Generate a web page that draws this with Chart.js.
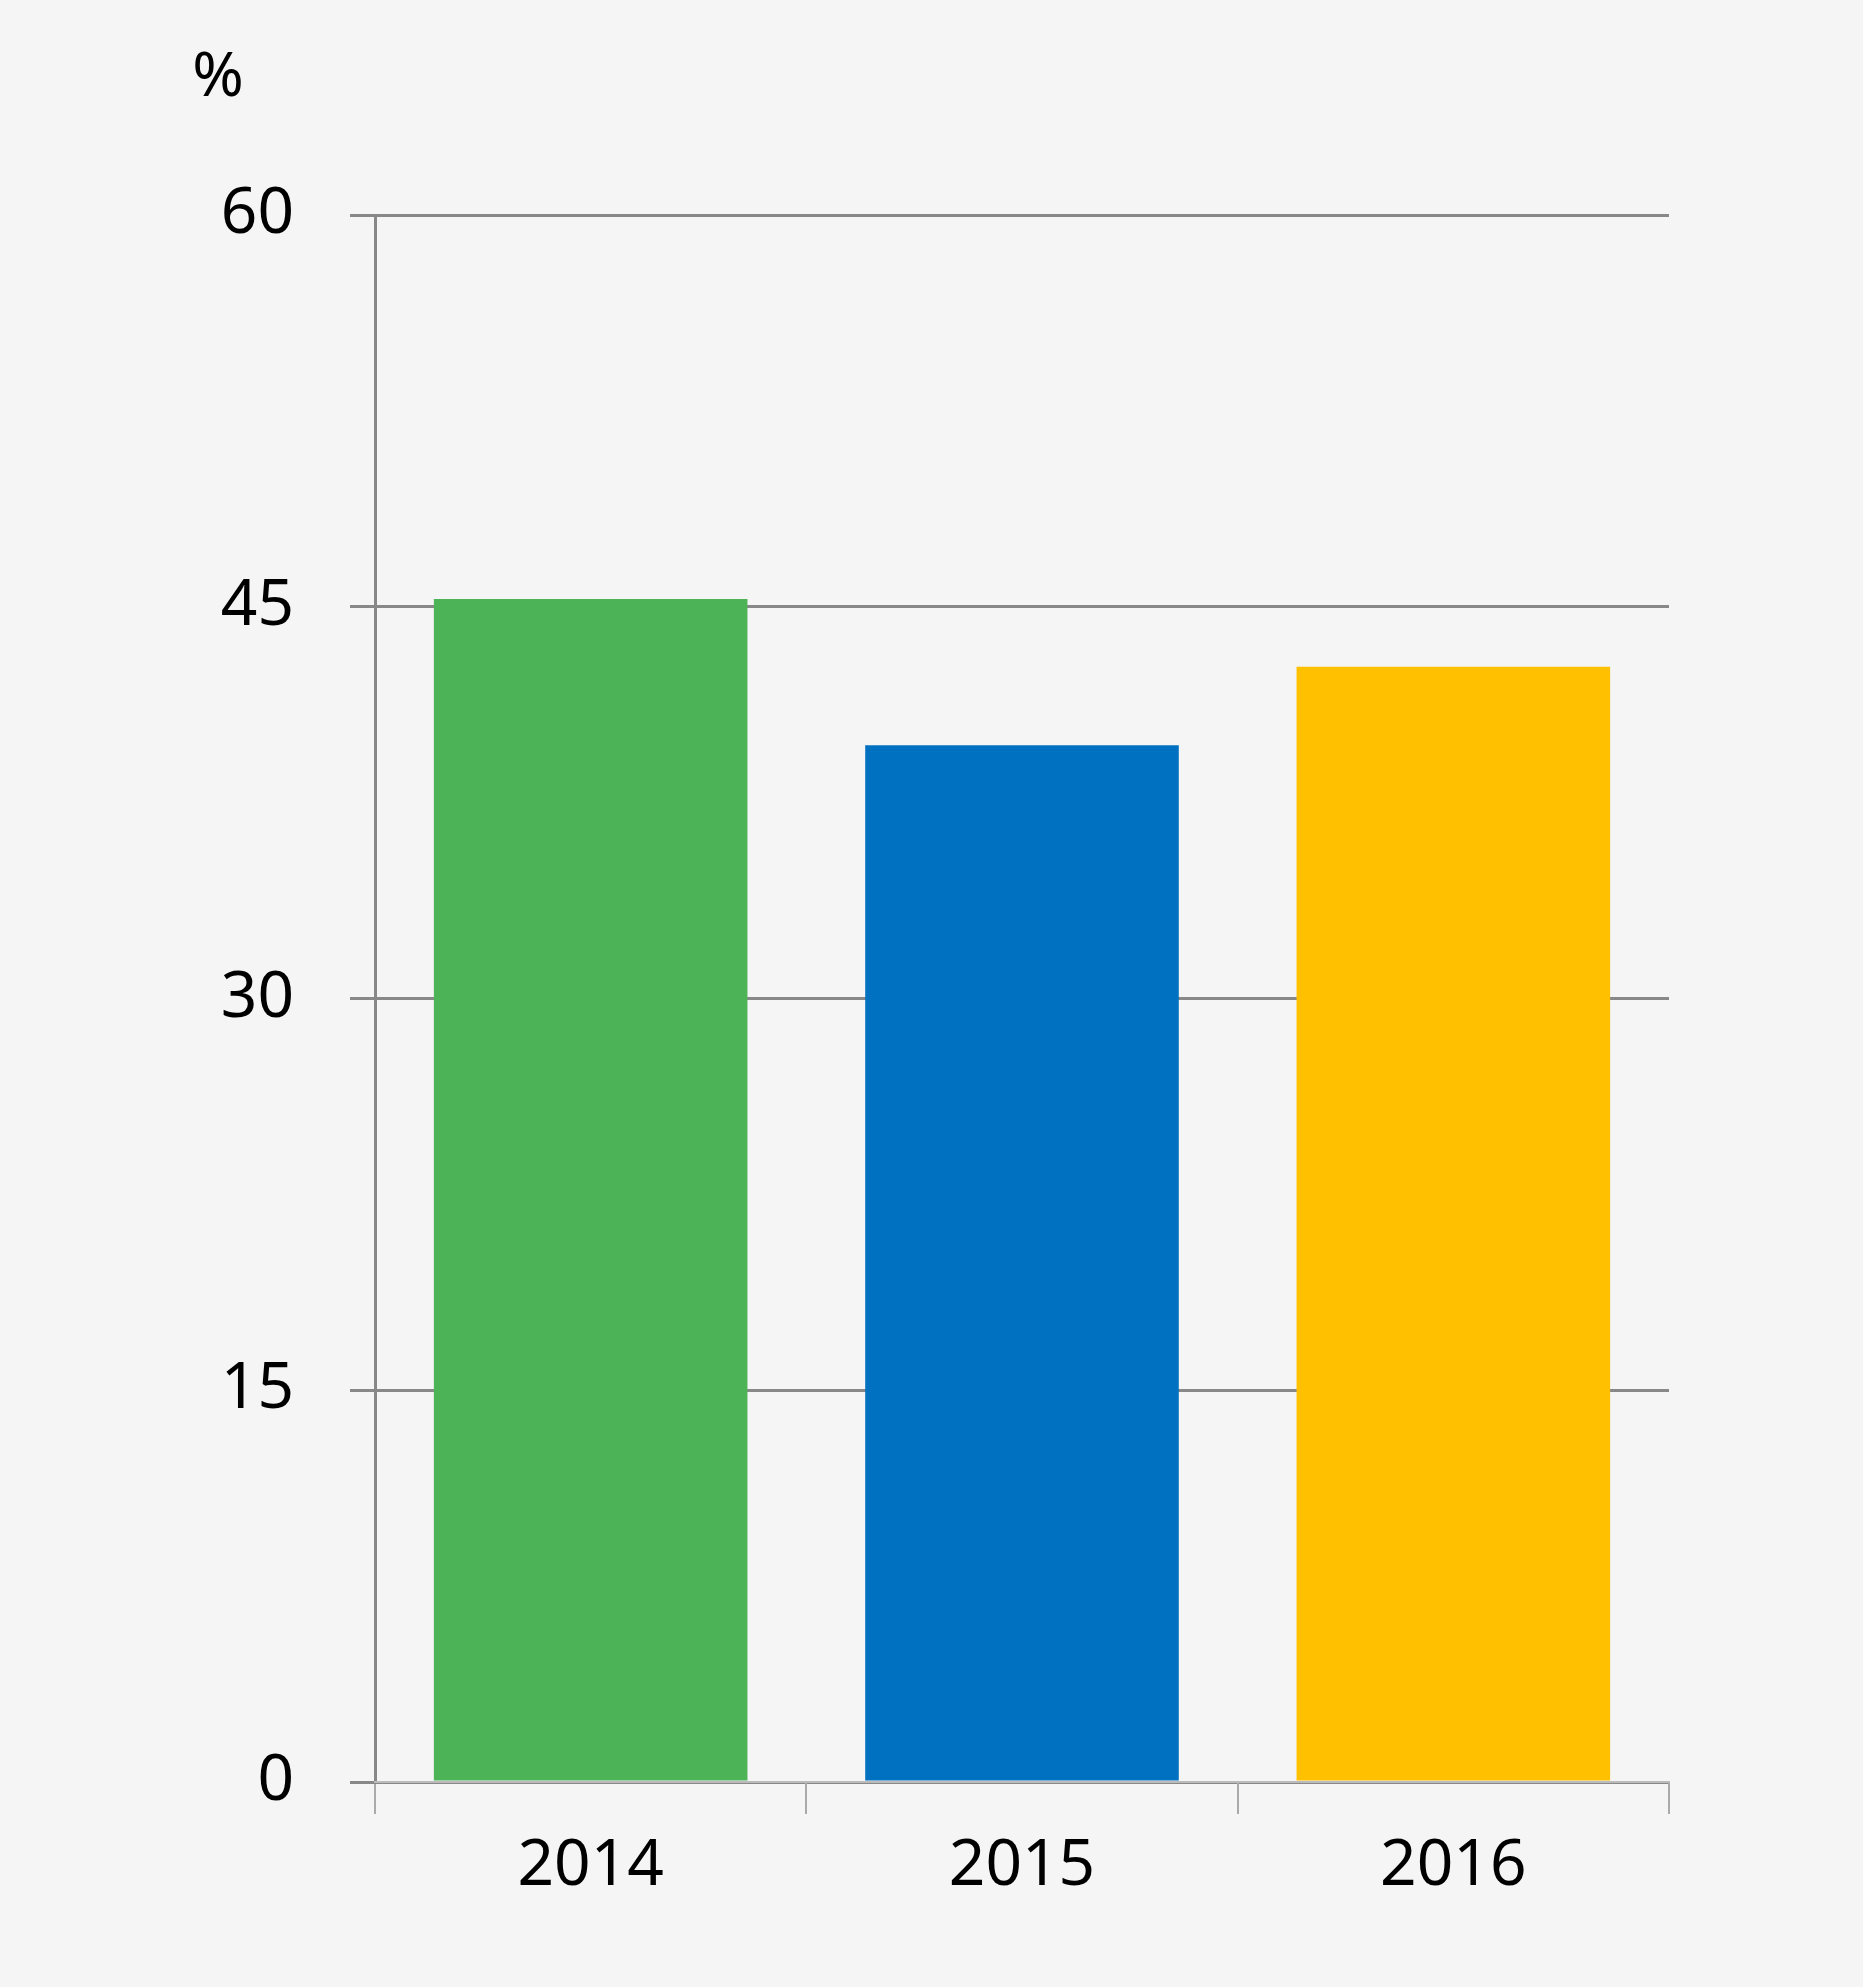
<!DOCTYPE html>
<html><head><meta charset="utf-8">
<script src="https://cdn.jsdelivr.net/npm/chart.js@4/dist/chart.umd.min.js"></script>
<style>html,body{margin:0;padding:0;background:#f5f5f5}#w{width:1863px;height:1987px}</style>
</head><body><div id="w"><canvas id="c"></canvas></div>
<script>
const categories = ["2014","2015","2016"];
const values = [45.3, 39.7, 42.7];
const barColors = ["#4db357","#0070c0","#ffc000"];
const yTicks = [0,15,30,45,60];
const unitLabel = "%";
const font = "'Noto Sans', 'Open Sans', sans-serif";

const unitPlugin = {
  id:'unit',
  afterDraw(chart){
    const ctx = chart.ctx;
    ctx.save();
    ctx.fillStyle = '#000';
    ctx.font = "62px " + font;
    ctx.textAlign = 'center';
    ctx.textBaseline = 'middle';
    ctx.fillText(unitLabel, 218, 78);
    ctx.restore();
  }
};

new Chart(document.getElementById('c'), {
  type:'bar',
  data:{labels:categories, datasets:[{data:values, backgroundColor:barColors, barPercentage:0.727, categoryPercentage:1}]},
  options:{
    responsive:true, maintainAspectRatio:false, animation:false,
    layout:{padding:{top:215,right:194,left:0,bottom:0}},
    plugins:{legend:{display:false}, tooltip:{enabled:false}},
    scales:{
      y:{min:0,max:60,
        afterBuildTicks(s){ s.ticks = yTicks.map(v=>({value:v})); },
        afterFit(s){ s.width = 375; },
        ticks:{color:'#000', font:{size:64, family:font}, padding:56},
        grid:{color:'#888', lineWidth:3, tickLength:25},
        border:{color:'#888', width:3}
      },
      x:{
        afterFit(s){ s.height = 205; },
        ticks:{color:'#000', font:{size:64, family:font}, padding:14},
        grid:{drawOnChartArea:false, offset:true, tickLength:32, color:'#aaa', lineWidth:2},
        border:{color:'#bbb', width:2}
      }
    }
  },
  plugins:[unitPlugin]
});
</script></body></html>
